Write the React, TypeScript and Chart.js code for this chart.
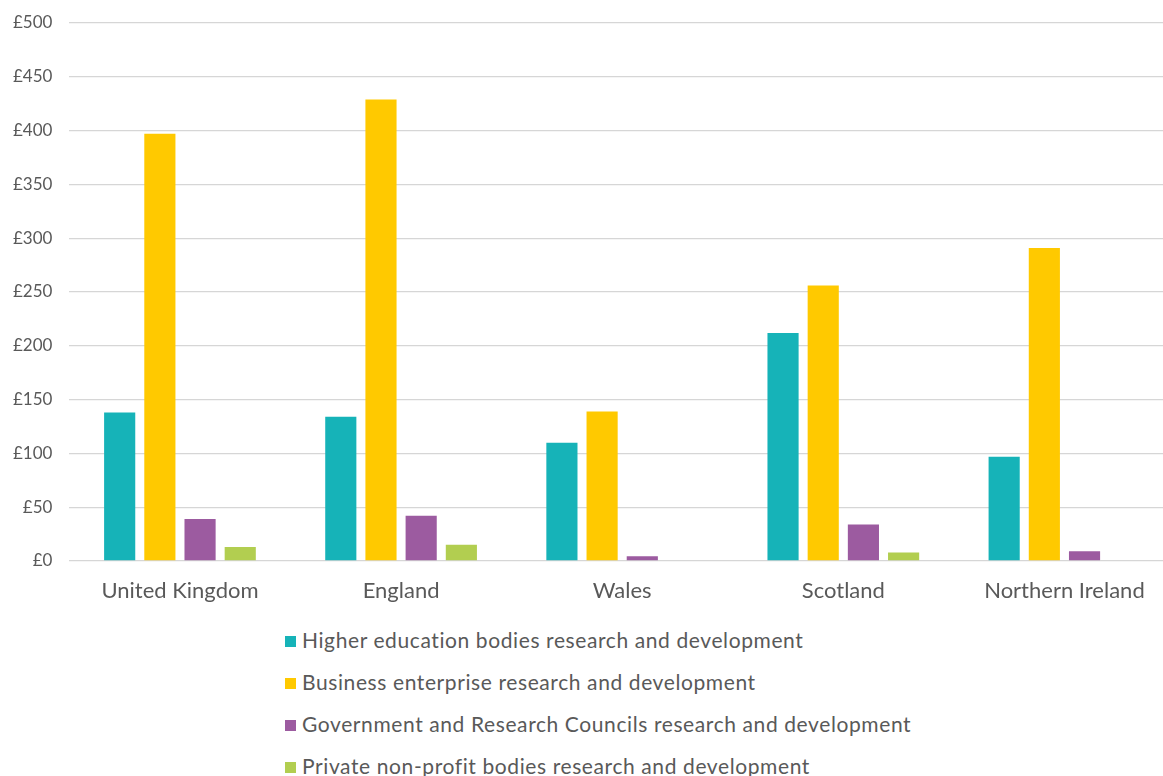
import React, { useEffect, useRef } from "react";
import { Chart, registerables } from "chart.js";

Chart.register(...registerables);

const categories = ["United Kingdom", "England", "Wales", "Scotland", "Northern Ireland"];
const seriesNames = [
  "Higher education bodies research and development",
  "Business enterprise research and development",
  "Government and Research Councils research and development",
  "Private non-profit bodies research and development",
];
const higherEducation = [138, 134, 110, 212, 97];
const businessEnterprise = [397, 429, 139, 256, 291];
const government = [39, 42, 4.5, 34, 9];
const privateNonProfit = [13, 15, 0, 8, 0];
const seriesColors = ["#16B3B8", "#FFC900", "#9C5BA0", "#B2CE50"];
const yTicks = [0, 50, 100, 150, 200, 250, 300, 350, 400, 450, 500];

const FONT = "Lato, 'Open Sans', sans-serif";
const TEXT = "#595959";

export default function App() {
  const ref = useRef<HTMLCanvasElement | null>(null);

  useEffect(() => {
    if (!ref.current) return;
    const values = [higherEducation, businessEnterprise, government, privateNonProfit];
    const chart = new Chart(ref.current, {
      type: "bar",
      data: {
        labels: categories,
        datasets: values.map((v, i) => ({
          label: seriesNames[i],
          data: v,
          backgroundColor: seriesColors[i],
          categoryPercentage: 0.727,
          barPercentage: 0.775,
        })),
      },
      options: {
        responsive: false,
        animation: false,
        layout: { padding: { top: 23, right: 0, bottom: 0, left: 0 } },
        plugins: { legend: { display: false }, tooltip: { enabled: false } },
        scales: {
          x: {
            grid: { display: false, drawTicks: false },
            border: { display: false },
            ticks: { color: TEXT, font: { family: FONT, size: 22 }, padding: 17 },
            afterFit: (s: any) => {
              s.height = 54;
            },
          },
          y: {
            min: 0,
            max: 500,
            afterBuildTicks: (s: any) => {
              s.ticks = yTicks.map((v) => ({ value: v }));
            },
            grid: { color: "#D6D6D6", lineWidth: 1.3, drawTicks: false },
            border: { display: false },
            ticks: {
              color: TEXT,
              font: { family: FONT, size: 17 },
              padding: 17,
              callback: (v: any) => "£" + v,
            },
            afterFit: (s: any) => {
              s.width = 69.4;
              s.paddingTop = 0;
              s.paddingBottom = 0;
            },
          },
        },
      },
    });
    return () => chart.destroy();
  }, []);

  return (
    <div
      style={{
        position: "absolute",
        left: 0,
        top: 0,
        width: 1163,
        height: 776,
        overflow: "hidden",
        background: "#fff",
        fontFamily: FONT,
      }}
    >
      <canvas ref={ref} width={1175} height={615} style={{ display: "block" }} />
      <div style={{ position: "absolute", left: 285, top: 625 }}>
        {seriesNames.map((n, i) => (
          <div
            key={n}
            style={{
              height: 42,
              display: "flex",
              alignItems: "flex-start",
              color: TEXT,
              fontSize: 21,
              letterSpacing: "0.6px",
              lineHeight: "30px",
              whiteSpace: "nowrap",
            }}
          >
            <span
              style={{
                display: "inline-block",
                width: 11,
                height: 11,
                background: seriesColors[i],
                marginTop: 11,
                marginRight: 6,
              }}
            />
            <span>{n}</span>
          </div>
        ))}
      </div>
    </div>
  );
}
